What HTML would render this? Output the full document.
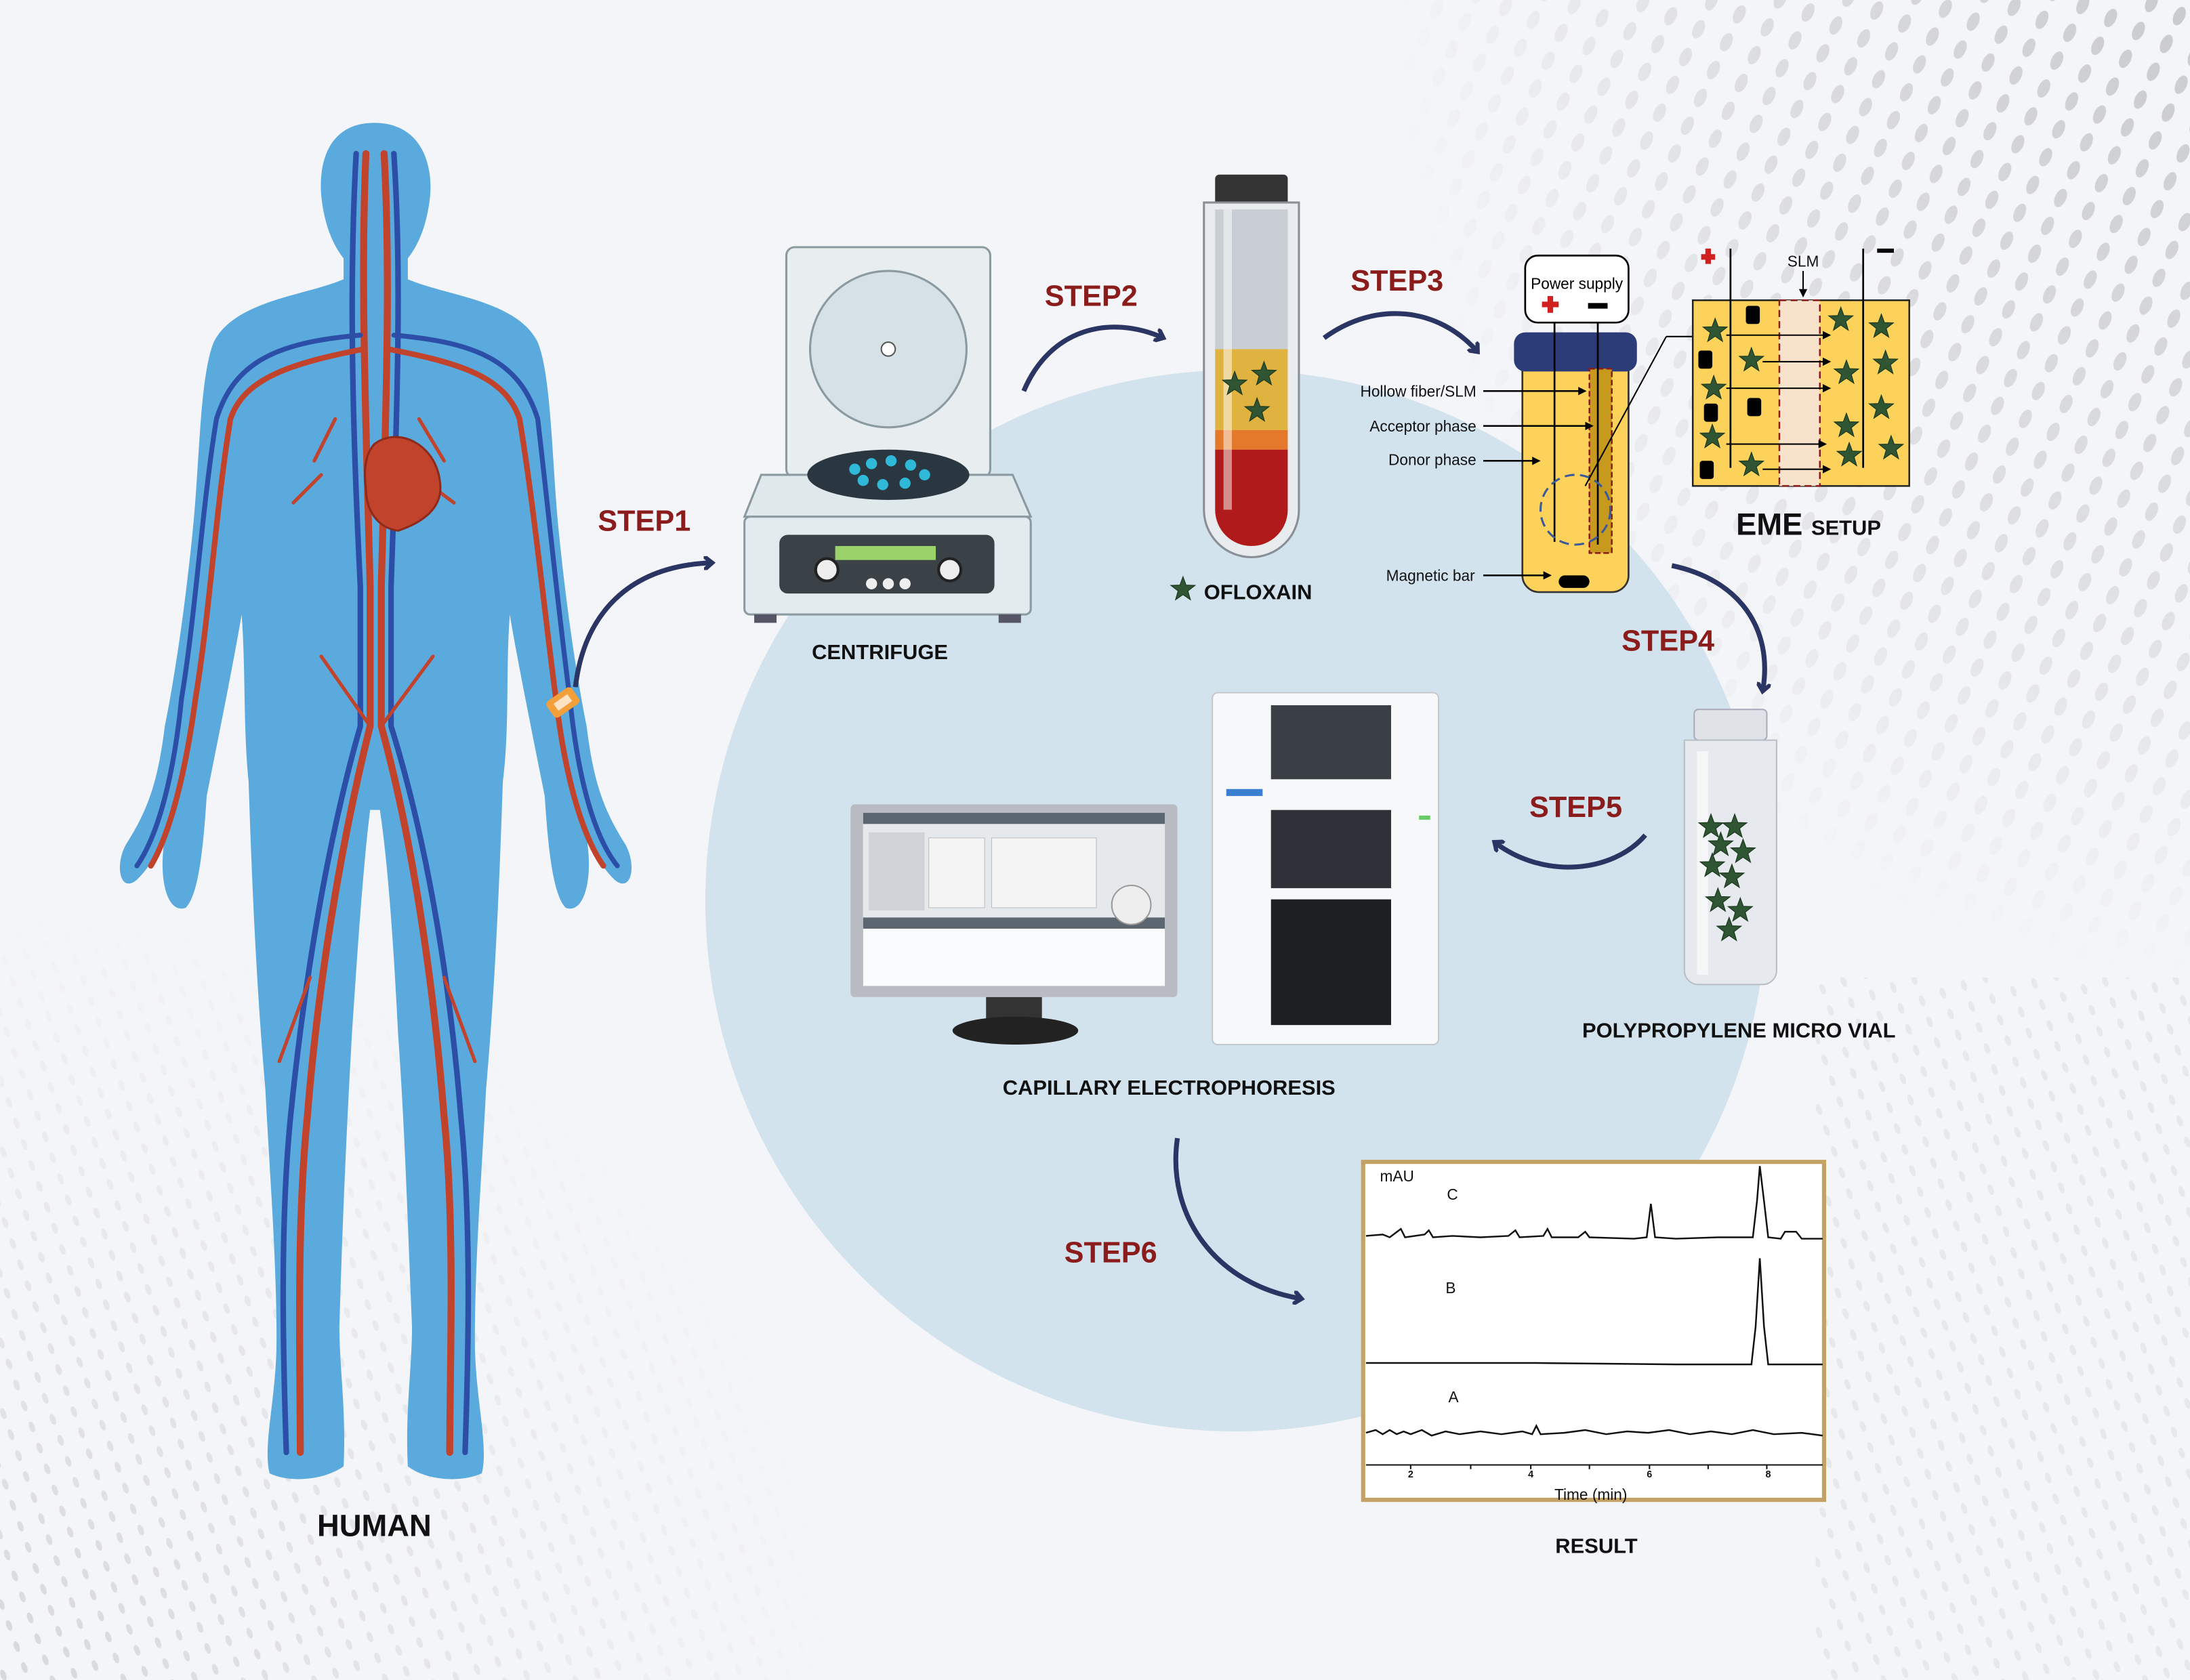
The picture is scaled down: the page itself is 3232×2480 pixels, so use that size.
<!DOCTYPE html>
<html><head><meta charset="utf-8"><style>
html,body{margin:0;padding:0;background:#f4f5f8}
svg{display:block}
text{font-family:"Liberation Sans",sans-serif}
</style></head><body>
<svg width="3232" height="2480" viewBox="0 0 1568 1203" preserveAspectRatio="none" xmlns="http://www.w3.org/2000/svg">
<defs>
<pattern id="dots" width="22" height="22" patternUnits="userSpaceOnUse" patternTransform="rotate(25)">
<ellipse cx="11" cy="11" rx="4" ry="7" fill="#c9cacd"/>
</pattern>
<pattern id="dots2" width="16" height="16" patternUnits="userSpaceOnUse" patternTransform="rotate(-20)">
<ellipse cx="8" cy="8" rx="2" ry="4" fill="#d3d4d8"/>
</pattern>
<radialGradient id="fadeTR" cx="1" cy="0" r="1"><stop offset="0" stop-color="#fff" stop-opacity="1"/><stop offset="0.6" stop-color="#fff" stop-opacity="0.5"/><stop offset="1" stop-color="#fff" stop-opacity="0"/></radialGradient>
<mask id="mTR"><rect x="1000" y="0" width="568" height="700" fill="url(#fadeTR)"/></mask>
<radialGradient id="fadeBL" cx="0" cy="1" r="1"><stop offset="0" stop-color="#fff" stop-opacity="0.9"/><stop offset="1" stop-color="#fff" stop-opacity="0"/></radialGradient>
<mask id="mBL"><rect x="0" y="650" width="600" height="553" fill="url(#fadeBL)"/></mask>
<path id="star" d="M0,-9 L2.2,-3 L8.6,-2.8 L3.5,1.2 L5.3,7.4 L0,3.8 L-5.3,7.4 L-3.5,1.2 L-8.6,-2.8 L-2.2,-3Z" fill="#2f5532" stroke="#1d3a20" stroke-width="0.6"/>
<marker id="ah" markerWidth="10" markerHeight="10" refX="6" refY="5" orient="auto" markerUnits="userSpaceOnUse"><path d="M0,0 L6,5 L0,10" fill="none" stroke="#2a3563" stroke-width="3"/></marker>
<marker id="sa" markerWidth="6" markerHeight="6" refX="5" refY="3" orient="auto" markerUnits="userSpaceOnUse"><path d="M0,0 L6,3 L0,6Z" fill="#000"/></marker>
</defs>
<rect width="1568" height="1203" fill="#f4f5f8"/>
<rect x="1000" y="0" width="568" height="700" fill="url(#dots)" mask="url(#mTR)"/>
<rect x="0" y="650" width="600" height="553" fill="url(#dots2)" mask="url(#mBL)"/>
<rect x="1300" y="700" width="268" height="503" fill="url(#dots2)" opacity="0.4"/>
<!-- big circle -->
<circle cx="885" cy="645" r="380" fill="#d2e3ee"/>

<!-- HUMAN -->
<g>
<path d="M268,88 C300,88 310,115 308,140 C306,160 300,175 292,185 L292,200 C320,212 370,215 385,245 C395,270 395,330 400,380 C405,430 412,480 420,520 C425,560 432,580 448,605 C456,620 452,640 440,630 C430,620 425,610 420,600 C425,630 418,655 405,650 C395,640 392,600 390,570 C380,520 370,470 365,440 C362,480 365,520 360,560 C358,620 355,700 348,780 C345,840 340,900 340,960 C340,1000 350,1035 345,1055 C330,1062 305,1060 292,1050 C290,1010 295,980 295,950 C292,880 290,810 285,740 C282,680 278,620 272,580 L265,580 C260,620 256,680 252,740 C248,810 245,880 243,950 C243,980 248,1010 246,1050 C232,1060 207,1062 193,1055 C188,1035 198,1000 198,960 C198,900 193,840 190,780 C183,700 180,620 178,560 C174,520 176,480 173,440 C168,470 158,520 148,570 C146,600 143,640 133,650 C120,655 113,630 118,600 C113,610 108,620 98,630 C86,640 82,620 90,605 C106,580 113,560 118,520 C126,480 133,430 138,380 C143,330 143,270 153,245 C168,215 218,212 246,200 L246,185 C238,175 232,160 230,140 C228,115 236,88 268,88Z" fill="#5aaade"/>
<g fill="none" stroke-linecap="round">
<path d="M262,110 C258,200 262,300 265,420 L265,520 C245,600 228,700 220,800 C212,880 215,980 215,1040" stroke="#c2432b" stroke-width="5"/>
<path d="M275,110 C280,200 276,300 273,420 L273,520 C295,600 310,700 318,800 C326,880 322,980 322,1040" stroke="#c2432b" stroke-width="5"/>
<path d="M255,110 C250,200 252,300 258,420 L258,520 C235,600 218,700 208,800 C200,880 203,980 205,1040" stroke="#2c4ea6" stroke-width="4"/>
<path d="M282,110 C288,200 284,300 280,420 L280,520 C305,600 322,700 330,800 C338,880 335,980 333,1040" stroke="#2c4ea6" stroke-width="4"/>
<path d="M260,250 C210,260 175,270 165,300 C155,360 150,440 140,500 C132,560 120,600 108,620" stroke="#c2432b" stroke-width="4"/>
<path d="M278,250 C330,260 362,270 372,300 C382,360 390,440 398,500 C405,560 418,600 432,620" stroke="#c2432b" stroke-width="4"/>
<path d="M258,240 C200,245 168,258 155,300 C145,360 140,440 130,500 C124,560 112,600 98,620" stroke="#2c4ea6" stroke-width="3.5"/>
<path d="M282,240 C340,245 372,258 385,300 C392,360 400,440 408,500 C414,560 426,600 442,620" stroke="#2c4ea6" stroke-width="3.5"/>
<path d="M240,300 L225,330 M300,300 L318,330 M230,340 L210,360 M305,345 L325,360" stroke="#c2432b" stroke-width="2.5"/>
<path d="M265,520 L230,470 M273,520 L310,470 M222,700 L200,760 M318,700 L340,760" stroke="#c2432b" stroke-width="2.5"/>
</g>
<path d="M268,318 C285,305 312,318 315,345 C318,365 300,375 285,380 C270,378 262,365 262,350 C260,335 262,325 268,318Z" fill="#c2432b" stroke="#8e2a1b" stroke-width="1.5"/>
<rect x="392" y="496" width="22" height="14" rx="3" fill="#f3a03a" transform="rotate(-35 403 503)"/>
<rect x="397" y="500" width="12" height="6" fill="#fff" opacity="0.7" transform="rotate(-35 403 503)"/>
</g>
<text x="268" y="1100" font-size="22" font-weight="bold" text-anchor="middle" fill="#111">HUMAN</text>

<!-- STEP labels -->
<g font-size="21" font-weight="bold" fill="#8b1c1c">
<text x="428" y="380">STEP1</text>
<text x="748" y="219">STEP2</text>
<text x="967" y="208">STEP3</text>
<text x="1161" y="466">STEP4</text>
<text x="1095" y="585">STEP5</text>
<text x="762" y="904">STEP6</text>
</g>
<!-- arrows -->
<g fill="none" stroke="#2a3563" stroke-width="3.5" marker-end="url(#ah)">
<path d="M412,492 C418,440 450,405 510,403"/>
<path d="M733,280 C752,235 795,225 833,242"/>
<path d="M948,242 C985,215 1030,220 1058,252"/>
<path d="M1197,405 C1245,415 1270,450 1262,495"/>
<path d="M1178,598 C1155,625 1105,630 1070,603"/>
<path d="M843,815 C835,870 870,920 932,930"/>
</g>

<!-- CENTRIFUGE -->
<g>
<rect x="563" y="177" width="146" height="165" rx="6" fill="#e8eef0" stroke="#8a9aa0" stroke-width="1.5"/>
<circle cx="636" cy="250" r="56" fill="#d6e1e5" stroke="#8a9aa0" stroke-width="1.5"/>
<circle cx="636" cy="250" r="5" fill="#fff" stroke="#555"/>
<path d="M545,340 L725,340 L738,370 L533,370Z" fill="#dfe8eb" stroke="#8a9aa0" stroke-width="1.5"/>
<ellipse cx="636" cy="340" rx="58" ry="18" fill="#2a3640"/>
<g fill="#2fb8d8"><circle cx="612" cy="336" r="4"/><circle cx="624" cy="332" r="4"/><circle cx="638" cy="330" r="4"/><circle cx="652" cy="333" r="4"/><circle cx="662" cy="340" r="4"/><circle cx="648" cy="346" r="4"/><circle cx="632" cy="347" r="4"/><circle cx="618" cy="344" r="4"/></g>
<rect x="533" y="370" width="205" height="70" rx="4" fill="#e3ebee" stroke="#8a9aa0" stroke-width="1.5"/>
<rect x="558" y="383" width="154" height="42" rx="6" fill="#3a4248"/>
<rect x="598" y="391" width="72" height="10" fill="#9bd36b"/>
<circle cx="592" cy="408" r="8" fill="#eee" stroke="#222" stroke-width="2"/><circle cx="680" cy="408" r="8" fill="#eee" stroke="#222" stroke-width="2"/>
<circle cx="624" cy="418" r="4" fill="#eee"/><circle cx="636" cy="418" r="4" fill="#eee"/><circle cx="648" cy="418" r="4" fill="#eee"/>
<rect x="540" y="440" width="16" height="6" fill="#556"/><rect x="715" y="440" width="16" height="6" fill="#556"/>
</g>
<text x="630" y="472" font-size="15" font-weight="bold" text-anchor="middle" fill="#111">CENTRIFUGE</text>

<!-- TUBE -->
<g>
<rect x="870" y="125" width="52" height="25" rx="3" fill="#333"/>
<path d="M862,145 L930,145 L930,365 A34,34 0 0 1 862,365Z" fill="#e9ecef" stroke="#8a8f96" stroke-width="1.5"/>
<rect x="870" y="150" width="52" height="100" fill="#c9ced4"/>
<rect x="870" y="250" width="52" height="58" fill="#e0b340"/>
<rect x="870" y="308" width="52" height="14" fill="#e4792b"/>
<path d="M870,322 L922,322 L922,365 A26,26 0 0 1 870,365Z" fill="#b01a1a"/>
<rect x="876" y="150" width="6" height="215" fill="#fff" opacity="0.5"/>
<use href="#star" x="884" y="275"/><use href="#star" x="905" y="268"/><use href="#star" x="900" y="294"/>
</g>
<use href="#star" x="847" y="422"/>
<text x="862" y="429" font-size="15" font-weight="bold" fill="#111">OFLOXAIN</text>

<!-- EME vial -->
<g>
<rect x="1092" y="183" width="74" height="48" rx="9" fill="#fff" stroke="#000" stroke-width="1.3"/>
<text x="1129" y="207" font-size="11" text-anchor="middle" fill="#000">Power supply</text>
<rect x="1104" y="216" width="12" height="4" fill="#d02020"/><rect x="1108" y="212" width="4" height="12" fill="#d02020"/>
<rect x="1137" y="217" width="14" height="4" fill="#000"/>
<path d="M1090,262 L1166,262 L1166,412 A12,12 0 0 1 1154,424 L1102,424 A12,12 0 0 1 1090,412Z" fill="#fdd25a" stroke="#333" stroke-width="1.3"/>
<rect x="1084" y="238" width="88" height="28" rx="8" fill="#2b3c78"/>
<rect x="1138" y="264" width="16" height="132" fill="#c79a1e" stroke="#8a1a1a" stroke-width="1.2" stroke-dasharray="4,2"/>
<line x1="1113" y1="231" x2="1113" y2="388" stroke="#000" stroke-width="1.3"/>
<line x1="1144" y1="231" x2="1144" y2="390" stroke="#000" stroke-width="1.3"/>
<circle cx="1128" cy="365" r="25" fill="none" stroke="#3a5a9a" stroke-width="1.5" stroke-dasharray="7,4"/>
<rect x="1116" y="412" width="22" height="9" rx="4.5" fill="#000"/>
<line x1="1135" y1="348" x2="1193" y2="241" stroke="#000" stroke-width="1"/><line x1="1193" y1="241" x2="1212" y2="241" stroke="#000"/>
<g font-size="11" fill="#111" text-anchor="end">
<text x="1057" y="284">Hollow fiber/SLM</text>
<text x="1057" y="309">Acceptor phase</text>
<text x="1057" y="333">Donor phase</text>
<text x="1056" y="416">Magnetic bar</text>
</g>
<g stroke="#000" stroke-width="1.2" marker-end="url(#sa)">
<line x1="1062" y1="280" x2="1135" y2="280"/>
<line x1="1062" y1="305" x2="1140" y2="305"/>
<line x1="1062" y1="330" x2="1102" y2="330"/>
<line x1="1062" y1="412" x2="1110" y2="412"/>
</g>
</g>
<!-- EME detail -->
<g>
<rect x="1212" y="215" width="155" height="133" fill="#fdd25a" stroke="#222" stroke-width="1.2"/>
<rect x="1274" y="215" width="29" height="133" fill="#f7e3cc" stroke="#8a1a1a" stroke-width="1.2" stroke-dasharray="5,3"/>
<line x1="1239" y1="178" x2="1239" y2="335" stroke="#000" stroke-width="1.3"/>
<line x1="1334" y1="178" x2="1334" y2="335" stroke="#000" stroke-width="1.3"/>
<rect x="1218" y="182" width="10" height="4" fill="#d02020"/><rect x="1221" y="178" width="4" height="11" fill="#d02020"/>
<rect x="1344" y="178" width="12" height="3" fill="#000"/>
<text x="1291" y="191" font-size="11" text-anchor="middle" fill="#111">SLM</text>
<line x1="1291" y1="194" x2="1291" y2="212" stroke="#000" marker-end="url(#sa)"/>
<g fill="#000"><rect x="1250" y="219" width="10" height="13" rx="2"/><rect x="1216" y="251" width="10" height="13" rx="2"/><rect x="1251" y="285" width="10" height="13" rx="2"/><rect x="1220" y="289" width="10" height="13" rx="2"/><rect x="1217" y="330" width="10" height="13" rx="2"/></g>
<g><use href="#star" x="1228" y="237"/><use href="#star" x="1254" y="258"/><use href="#star" x="1227" y="278"/><use href="#star" x="1226" y="313"/><use href="#star" x="1254" y="333"/>
<use href="#star" x="1318" y="229"/><use href="#star" x="1347" y="234"/><use href="#star" x="1322" y="267"/><use href="#star" x="1350" y="260"/><use href="#star" x="1347" y="292"/><use href="#star" x="1322" y="305"/><use href="#star" x="1324" y="326"/><use href="#star" x="1354" y="321"/></g>
<g stroke="#000" stroke-width="1" marker-end="url(#sa)">
<line x1="1236" y1="240" x2="1310" y2="240"/><line x1="1262" y1="259" x2="1310" y2="259"/><line x1="1236" y1="278" x2="1310" y2="278"/><line x1="1236" y1="318" x2="1307" y2="318"/><line x1="1262" y1="336" x2="1310" y2="336"/>
</g>
<text x="1243" y="383" font-size="22" font-weight="bold" fill="#111">EME <tspan font-size="15">SETUP</tspan></text>
</g>

<!-- micro vial -->
<g>
<rect x="1213" y="508" width="52" height="22" rx="3" fill="#dfe3e8" stroke="#aab" />
<path d="M1206,530 L1272,530 L1272,695 A10,10 0 0 1 1262,705 L1216,705 A10,10 0 0 1 1206,695Z" fill="#e6e9ee" stroke="#b8bec6"/>
<rect x="1215" y="538" width="8" height="160" fill="#fff" opacity="0.6"/>
<use href="#star" x="1225" y="592"/><use href="#star" x="1242" y="592"/><use href="#star" x="1232" y="605"/><use href="#star" x="1248" y="610"/><use href="#star" x="1226" y="620"/><use href="#star" x="1240" y="628"/><use href="#star" x="1230" y="645"/><use href="#star" x="1246" y="652"/><use href="#star" x="1238" y="666"/>
</g>
<text x="1245" y="743" font-size="15" font-weight="bold" text-anchor="middle" fill="#111">POLYPROPYLENE MICRO VIAL</text>

<!-- CE instrument -->
<g>
<rect x="868" y="496" width="162" height="252" rx="4" fill="#f7f8f9" stroke="#c4c8cc"/>
<rect x="910" y="505" width="86" height="53" fill="#3a3f46"/>
<rect x="910" y="580" width="86" height="56" fill="#2e3238"/>
<rect x="910" y="644" width="86" height="90" fill="#1d1f23"/>
<rect x="878" y="565" width="26" height="5" fill="#3a7fd0"/>
<rect x="1016" y="584" width="8" height="3" fill="#6c6"/>
<!-- monitor -->
<rect x="609" y="576" width="234" height="138" rx="3" fill="#b8bcc2"/>
<rect x="618" y="582" width="216" height="124" fill="#fafbfc"/>
<rect x="618" y="582" width="216" height="82" fill="#e6e9ec"/>
<rect x="618" y="582" width="216" height="8" fill="#5c6670"/>
<rect x="618" y="657" width="216" height="8" fill="#5c6670"/>
<rect x="622" y="596" width="40" height="56" fill="#d0d4d8"/>
<rect x="665" y="600" width="40" height="50" fill="#f4f4f4" stroke="#bbb" stroke-width="0.5"/>
<rect x="710" y="600" width="75" height="50" fill="#f4f4f4" stroke="#bbb" stroke-width="0.5"/>
<circle cx="810" cy="648" r="14" fill="#eee" stroke="#999"/>
<rect x="706" y="714" width="40" height="18" fill="#333"/>
<ellipse cx="727" cy="738" rx="45" ry="10" fill="#222"/>
</g>
<text x="837" y="784" font-size="15" font-weight="bold" text-anchor="middle" fill="#111">CAPILLARY ELECTROPHORESIS</text>

<!-- RESULT chart -->
<g>
<rect x="976" y="832" width="330" height="242" fill="#fff" stroke="#c4a265" stroke-width="3"/>
<text x="988" y="846" font-size="11" fill="#111">mAU</text>
<text x="1036" y="859" font-size="11" fill="#111">C</text>
<text x="1035" y="926" font-size="11" fill="#111">B</text>
<text x="1037" y="1004" font-size="11" fill="#111">A</text>
<g fill="none" stroke="#111" stroke-width="1.2">
<path d="M978,885 L990,884 L995,886 L1003,880 L1006,886 L1020,884 L1023,881 L1026,886 L1040,885 L1060,886 L1080,885 L1085,881 L1088,886 L1105,885 L1108,880 L1111,886 L1130,886 L1135,882 L1138,886 L1170,887 L1179,886 L1182,862 L1185,886 L1200,887 L1230,886 L1255,886 L1258,860 L1260,835 L1263,860 L1266,886 L1275,887 L1278,882 L1286,882 L1290,887 L1305,887"/>
<path d="M978,976 L1100,976 L1200,977 L1254,977 L1257,950 L1260,901 L1263,950 L1266,977 L1305,977"/>
<path d="M978,1026 L985,1024 L990,1027 L995,1024 L1000,1027 L1005,1025 L1010,1027 L1018,1024 L1025,1028 L1035,1025 L1045,1027 L1060,1025 L1075,1027 L1090,1025 L1097,1027 L1100,1021 L1103,1027 L1120,1026 L1135,1024 L1150,1027 L1165,1025 L1180,1026 L1195,1024 L1210,1027 L1225,1025 L1240,1027 L1255,1024 L1270,1027 L1290,1026 L1305,1028"/>
<path d="M978,1049 L1305,1049" stroke-width="1"/>
<path d="M1010,1049 v3 M1053,1049 v3 M1096,1049 v3 M1138,1049 v3 M1181,1049 v3 M1223,1049 v3 M1265,1049 v3" stroke-width="1"/>
</g>
<g font-size="7" font-weight="bold" fill="#111" text-anchor="middle"><text x="1010" y="1058">2</text><text x="1096" y="1058">4</text><text x="1181" y="1058">6</text><text x="1266" y="1058">8</text></g>
<text x="1139" y="1074" font-size="11" text-anchor="middle" fill="#111">Time (min)</text>
</g>
<text x="1143" y="1112" font-size="15" font-weight="bold" text-anchor="middle" fill="#111">RESULT</text>
</svg>
</body></html>
